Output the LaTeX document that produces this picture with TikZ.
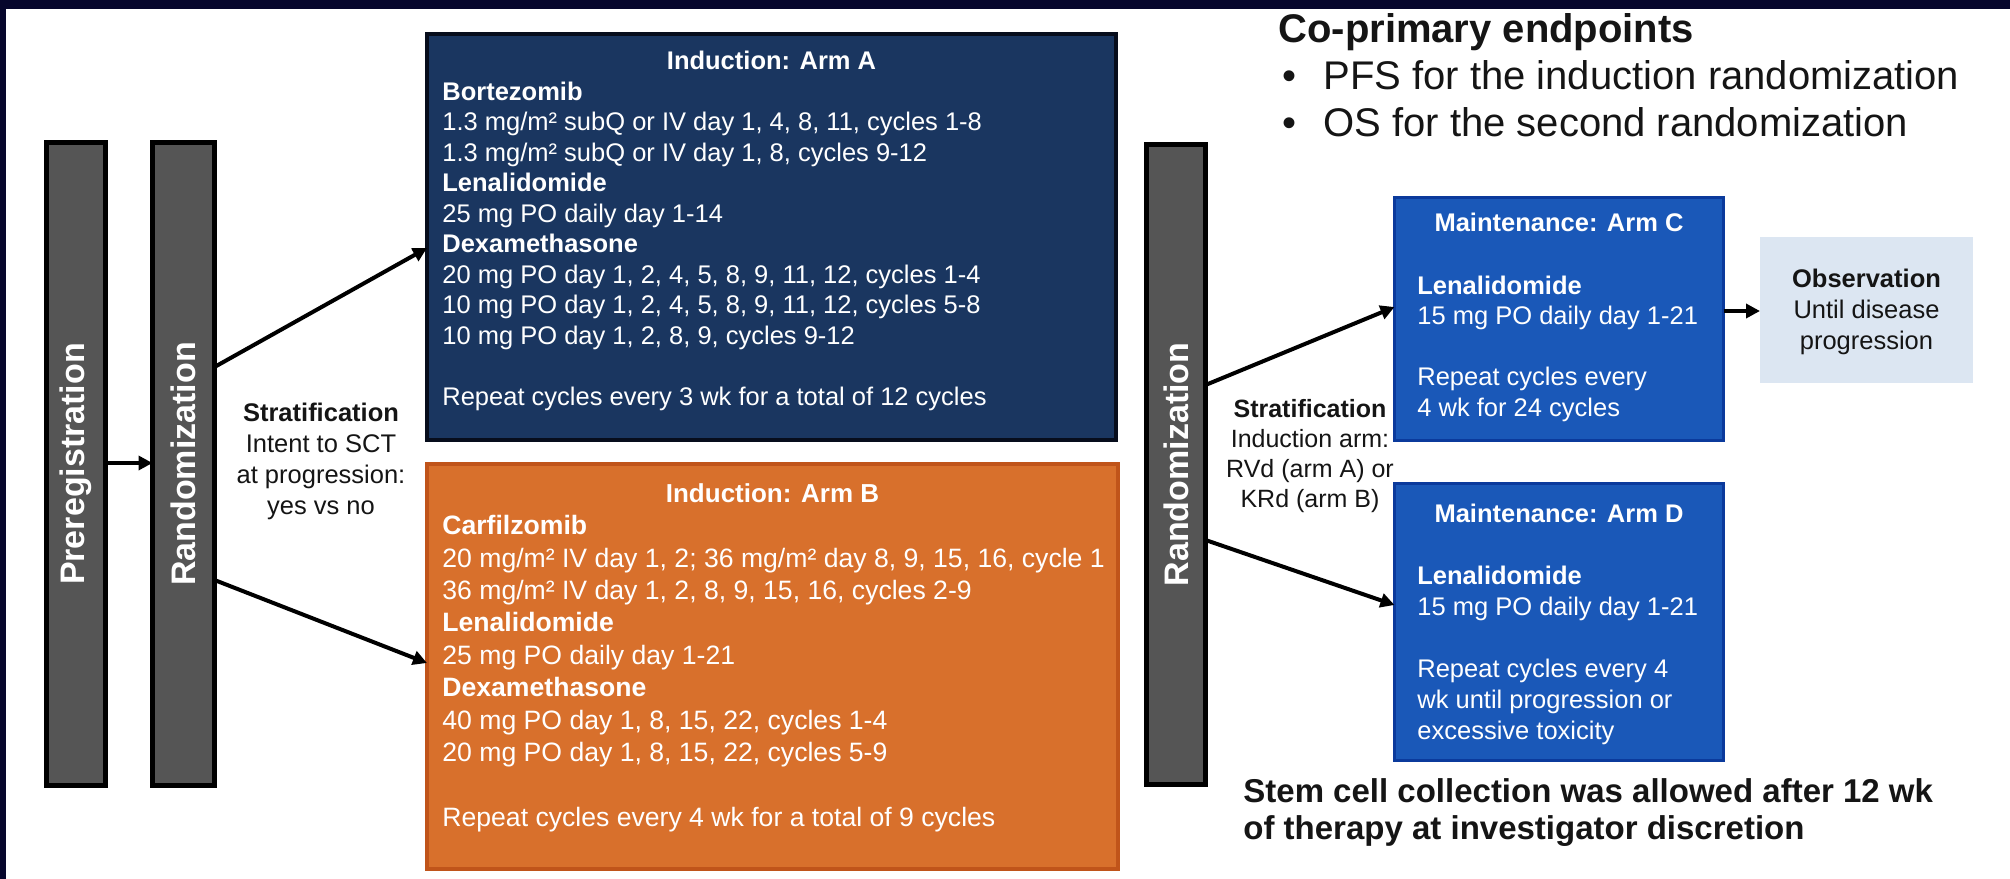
\documentclass[tikz,border=0pt]{standalone}
\usepackage{fontspec}
\setmainfont{Liberation Sans}
\usetikzlibrary{arrows.meta}

\definecolor{framecol}{HTML}{06062C}
\definecolor{bargray}{HTML}{555555}
\definecolor{navyfill}{HTML}{1A3660}
\definecolor{navyedge}{HTML}{070D1C}
\definecolor{orangefill}{HTML}{D8702C}
\definecolor{orangeedge}{HTML}{C0541A}
\definecolor{bluefill}{HTML}{1A58B8}
\definecolor{blueedge}{HTML}{0B3A9C}
\definecolor{obsfill}{HTML}{DCE6F2}
\definecolor{inktext}{HTML}{151515}

\tikzset{
  bar/.style={draw=black, line width=2.5pt, fill=bargray, inner sep=0pt, outer sep=0pt},
  bartext/.style={rotate=90, text=white, font=\bfseries\fontsize{17}{19}\selectfont, inner sep=0pt},
  boxA/.style={draw=navyedge, line width=2pt, fill=navyfill, inner sep=0pt, outer sep=0pt},
  boxB/.style={draw=orangeedge, line width=2pt, fill=orangefill, inner sep=0pt, outer sep=0pt},
  boxM/.style={draw=blueedge, line width=1.5pt, fill=bluefill, inner sep=0pt, outer sep=0pt},
  boxO/.style={fill=obsfill, inner sep=0pt, outer sep=0pt},
  title/.style={text=white, font=\bfseries\fontsize{12.75}{15.25}\selectfont, inner sep=0pt},
  bodyA/.style={text=white, align=left, anchor=north west, inner sep=0pt, font=\fontsize{12.75}{15.25}\selectfont},
  bodyB/.style={text=white, align=left, anchor=north west, inner sep=0pt, font=\fontsize{13.3}{16.2}\selectfont},
  note/.style={text=inktext, align=center, anchor=north, inner sep=0pt},
  arr/.style={line width=2pt, -{Triangle[length=7pt,width=7pt]}},
}

\begin{document}
\begin{tikzpicture}[x=0.5pt, y=-0.5pt]
  % slide frame and page
  \fill[framecol] (0,0) rectangle (2010,879);
  \fill[white] (6,9) rectangle (2010,879);
  \useasboundingbox (0,0) rectangle (2010,879);

  % vertical stage bars
  \node[bar, minimum width=29.5pt, minimum height=321.5pt] (prereg) at (76,464) {};
  \node[bar, minimum width=31pt, minimum height=321.5pt] (rand1) at (183.5,464) {};
  \node[bar, minimum width=29.5pt, minimum height=320pt] (rand2) at (1176,464.5) {};
  \node[bartext] (preregtxt) at (prereg) {Preregistration};
  \node[bartext] (rand1txt) at (rand1) {Randomization};
  \node[bartext] (rand2txt) at (rand2) {Randomization};

  % induction arms
  \node[boxA, minimum width=344.5pt, minimum height=203pt] (armA) at (771.5,237) {};
  \node[boxB, minimum width=345.5pt, minimum height=202.5pt] (armB) at (772.5,666.5) {};
  \node[title] (armAtitle) at (771.5,60) {Induction: Arm A};
  \node[bodyA] (armAbody) at (442,81.5) {%
    \textbf{Bortezomib}\\
    1.3 mg/m² subQ or IV day 1, 4, 8, 11, cycles 1-8\\
    1.3 mg/m² subQ or IV day 1, 8, cycles 9-12\\
    \textbf{Lenalidomide}\\
    25 mg PO daily day 1-14\\
    \textbf{Dexamethasone}\\
    20 mg PO day 1, 2, 4, 5, 8, 9, 11, 12, cycles 1-4\\
    10 mg PO day 1, 2, 4, 5, 8, 9, 11, 12, cycles 5-8\\
    10 mg PO day 1, 2, 8, 9, cycles 9-12\\[15.25pt]
    Repeat cycles every 3 wk for a total of 12 cycles};
  \node[title, font=\bfseries\fontsize{13}{16}\selectfont] (armBtitle) at (772.5,493) {Induction: Arm B};
  \node[bodyB] (armBbody) at (442,515) {%
    \textbf{Carfilzomib}\\
    20 mg/m² IV day 1, 2; 36 mg/m² day 8, 9, 15, 16, cycle 1\\
    36 mg/m² IV day 1, 2, 8, 9, 15, 16, cycles 2-9\\
    \textbf{Lenalidomide}\\
    25 mg PO daily day 1-21\\
    \textbf{Dexamethasone}\\
    40 mg PO day 1, 8, 15, 22, cycles 1-4\\
    20 mg PO day 1, 8, 15, 22, cycles 5-9\\[16.2pt]
    Repeat cycles every 4 wk for a total of 9 cycles};

  % first stratification
  \node[note, font=\fontsize{12.75}{15.5}\selectfont] (strat1) at (321,402.5)
    {\textbf{Stratification}\\Intent to SCT\\at progression:\\yes vs no};

  % maintenance arms and observation
  \node[boxM, minimum width=164.5pt, minimum height=121.5pt] (armC) at (1559,319) {};
  \node[boxM, minimum width=164.5pt, minimum height=138.5pt] (armD) at (1559,622) {};
  \node[boxO, minimum width=106.5pt, minimum height=73pt] (obs) at (1866.5,310) {};
  \node[title] (armCtitle) at (1559,222) {Maintenance: Arm C};
  \node[bodyA] (armCbody) at (1417,275.5) {%
    \textbf{Lenalidomide}\\
    15 mg PO daily day 1-21\\[15.25pt]
    Repeat cycles every\\
    4 wk for 24 cycles};
  \node[title] (armDtitle) at (1559,513) {Maintenance: Arm D};
  \node[bodyA, font=\fontsize{12.75}{15.5}\selectfont] (armDbody) at (1417,565.5) {%
    \textbf{Lenalidomide}\\
    15 mg PO daily day 1-21\\[15.5pt]
    Repeat cycles every 4\\
    wk until progression or\\
    excessive toxicity};
  \node[note, font=\fontsize{12.75}{15.5}\selectfont] (obstxt) at (1866.5,268.5)
    {\textbf{Observation}\\Until disease\\progression};

  % second stratification
  \node[note, font=\fontsize{12.5}{15}\selectfont] (strat2) at (1310,398.5)
    {\textbf{Stratification}\\Induction arm:\\RVd (arm A) or\\KRd (arm B)};

  % endpoints and footnote
  \node[text=inktext, align=left, anchor=north west, inner sep=0pt,
        font=\fontsize{20}{23.5}\selectfont] (endpoints) at (1278,13)
    {\textbf{Co-primary endpoints}\\
     \makebox[22.5pt][l]{\hspace*{2pt}•}PFS for the induction randomization\\
     \makebox[22.5pt][l]{\hspace*{2pt}•}OS for the second randomization};
  \node[text=inktext, align=left, anchor=north west, inner sep=0pt,
        font=\bfseries\fontsize{16.5}{18.5}\selectfont] (stem) at (1243,778)
    {Stem cell collection was allowed after 12 wk\\
     of therapy at investigator discretion};

  % connectors
  \draw[arr] (prereg.east |- 0,463) -- (rand1.west |- 0,463);
  \draw[arr] (rand1.east |- 0,367) -- (armA.west |- 0,248);
  \draw[arr] (rand1.east |- 0,580) -- (armB.west |- 0,663);
  \draw[arr] (rand2.east |- 0,385) -- (armC.west |- 0,307);
  \draw[arr] (rand2.east |- 0,540) -- (armD.west |- 0,605);
  \draw[arr] (armC.east |- 0,311) -- (obs.west |- 0,311);
\end{tikzpicture}
\end{document}
